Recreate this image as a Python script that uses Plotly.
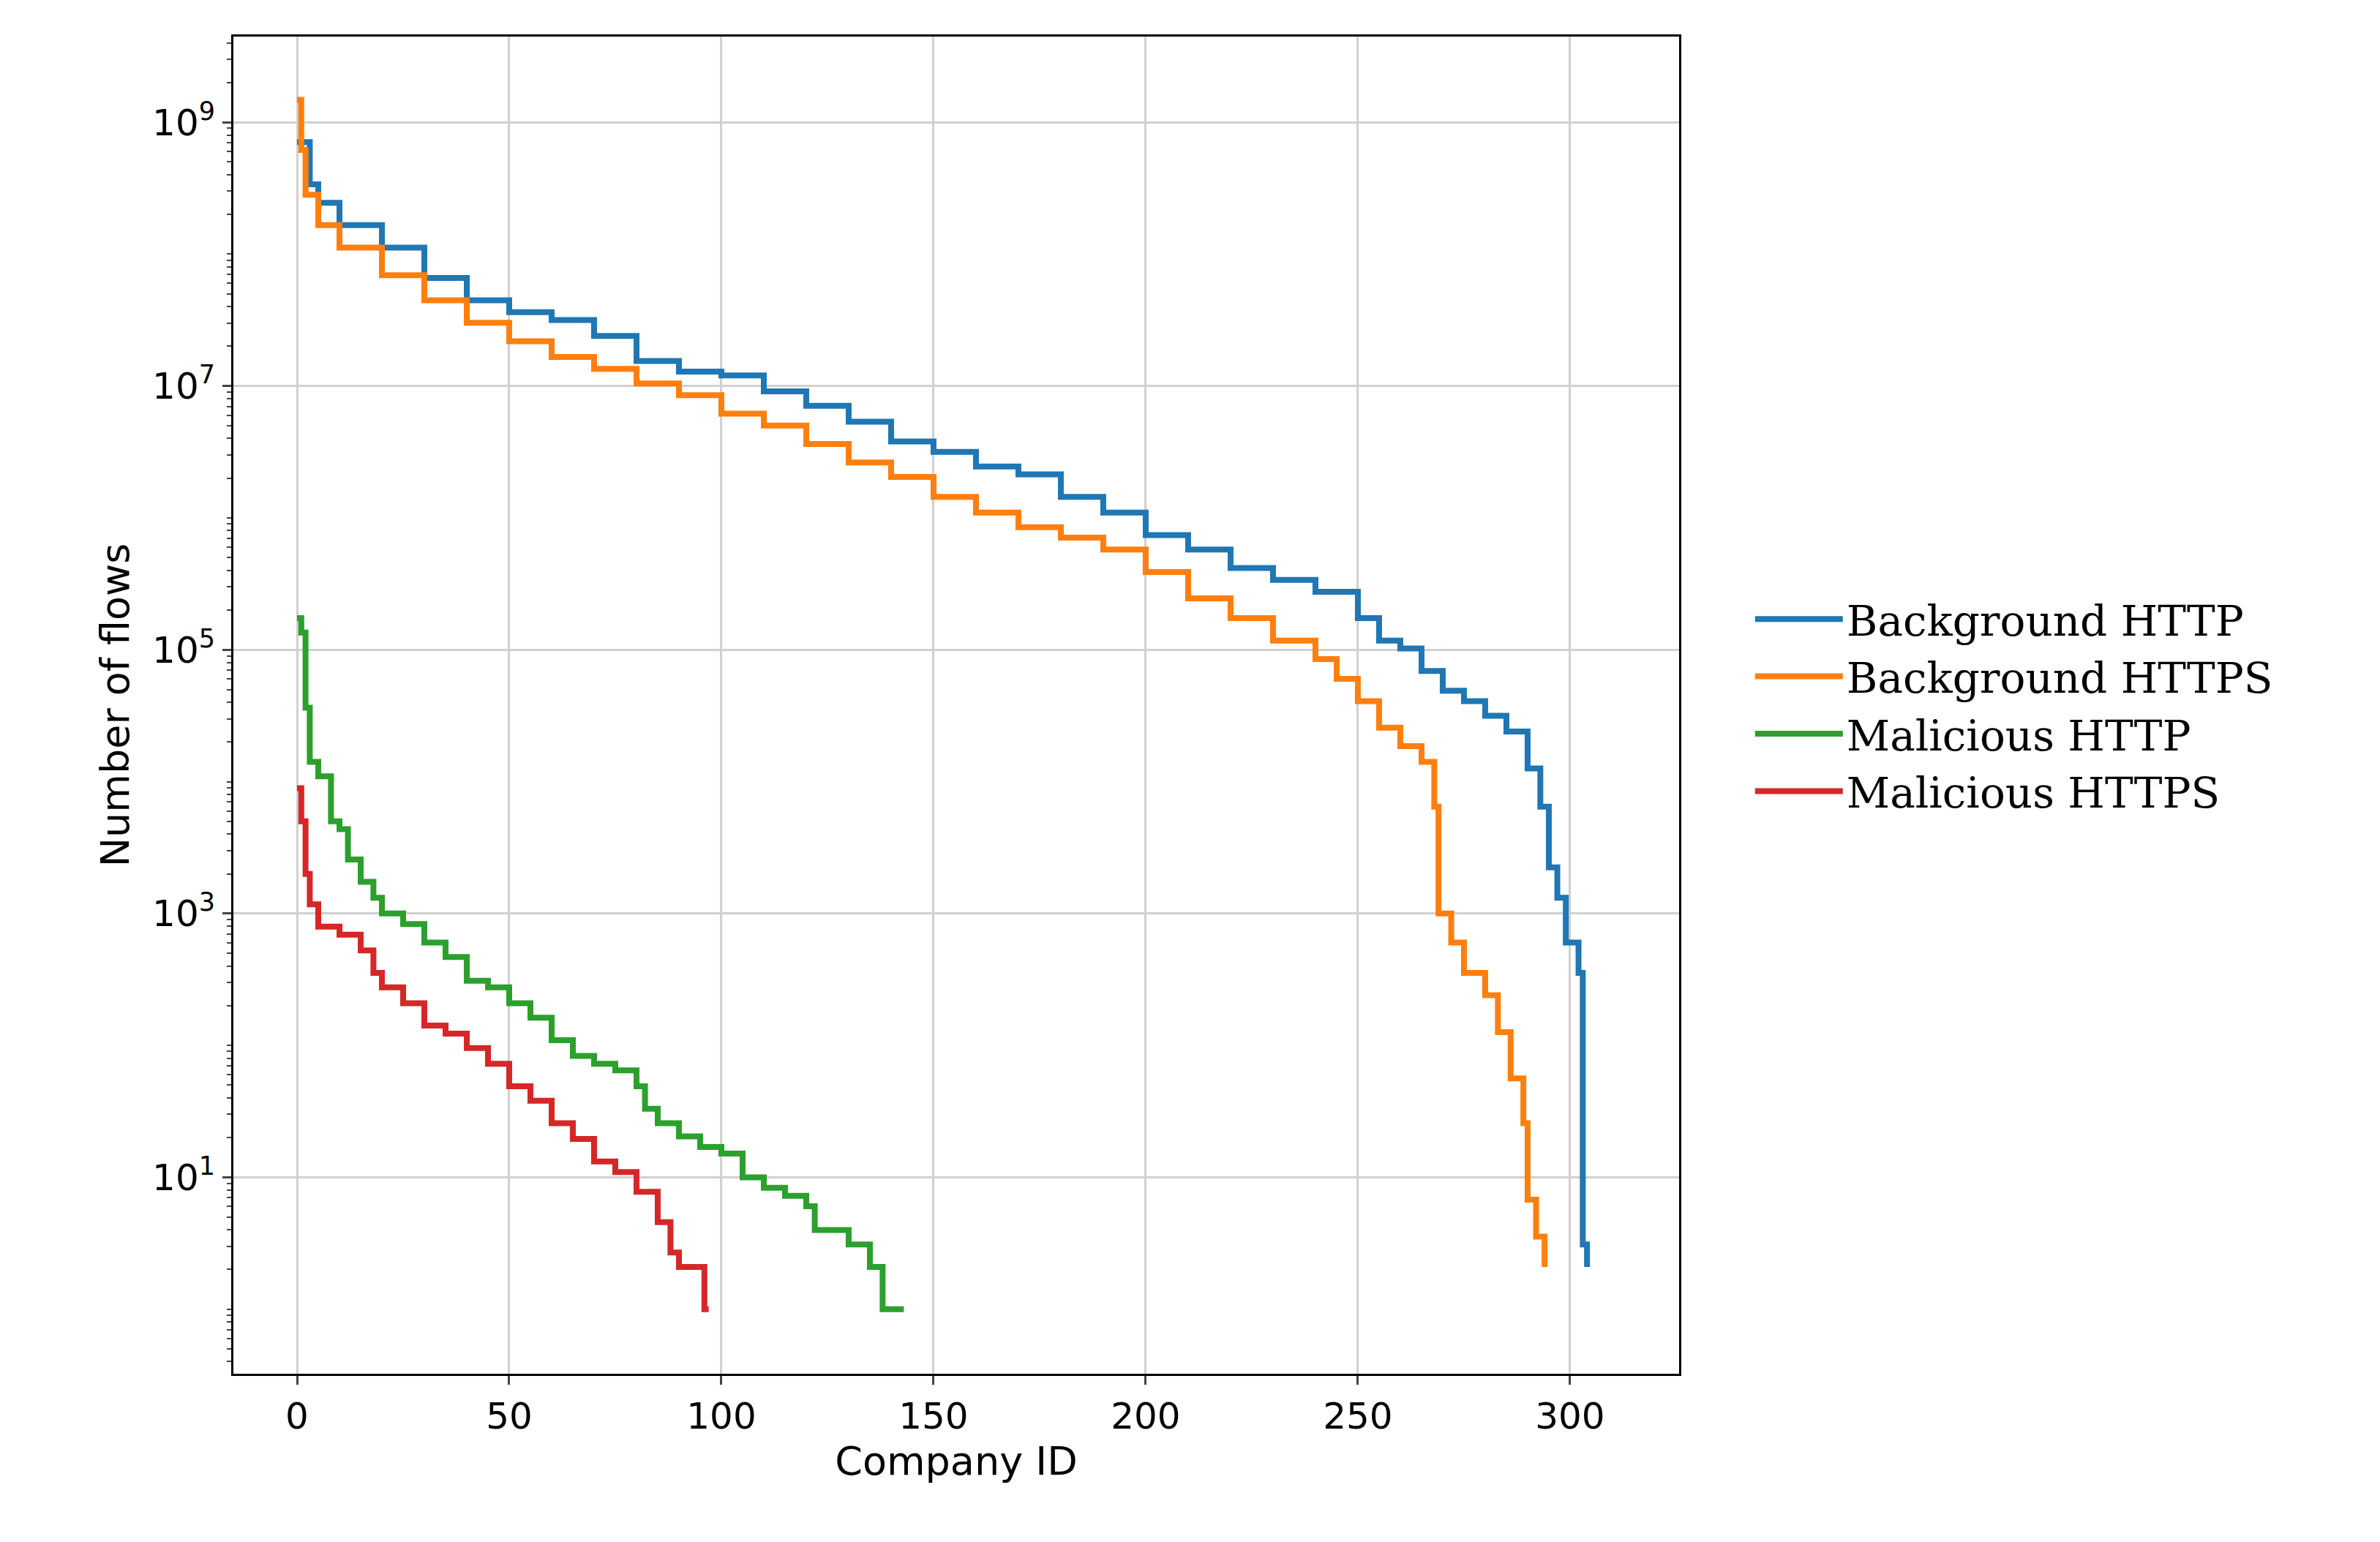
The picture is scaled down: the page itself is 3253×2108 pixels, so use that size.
import plotly.graph_objects as go

bg_http_x = [0,3,5,10,20,30,40,50,60,70,80,90,100,110,120,130,140,150,160,170,180,190,200,210,220,230,240,250,255,260,265,270,275,280,285,290,293,295,297,299,302,303,304]
bg_http_log = [8.85,8.53,8.39,8.22,8.05,7.82,7.65,7.56,7.5,7.38,7.19,7.11,7.08,6.96,6.85,6.73,6.58,6.5,6.39,6.33,6.16,6.04,5.87,5.76,5.62,5.53,5.44,5.24,5.07,5.01,4.84,4.69,4.61,4.5,4.38,4.1,3.81,3.35,3.12,2.78,2.55,0.49,0.32]

bg_https_x = [0,1,2,5,10,20,30,40,50,60,70,80,90,100,110,120,130,140,150,160,170,180,190,200,210,220,230,240,245,250,255,260,265,268,269,272,275,280,283,286,289,290,292,294]
bg_https_log = [9.17,8.79,8.45,8.22,8.05,7.84,7.65,7.48,7.34,7.22,7.13,7.02,6.93,6.79,6.7,6.56,6.42,6.31,6.16,6.04,5.93,5.85,5.76,5.59,5.39,5.24,5.07,4.93,4.78,4.61,4.41,4.27,4.15,3.81,3.0,2.78,2.55,2.38,2.1,1.75,1.41,0.83,0.55,0.32]

mal_http_x = [0,1,2,3,5,8,10,12,15,18,20,25,30,35,40,45,50,55,60,65,70,75,80,82,85,90,95,100,105,110,115,120,122,130,135,138,143]
mal_http_log = [5.24,5.13,4.56,4.15,4.04,3.7,3.64,3.41,3.24,3.12,3.0,2.92,2.78,2.67,2.49,2.44,2.32,2.21,2.04,1.92,1.86,1.81,1.69,1.52,1.41,1.31,1.23,1.18,1.0,0.92,0.86,0.78,0.6,0.49,0.32,0.0,0.0]

mal_https_x = [0,1,2,3,5,10,15,18,20,25,30,35,40,45,50,55,60,65,70,75,80,85,88,90,95,96,97]
mal_https_log = [3.95,3.7,3.3,3.07,2.9,2.84,2.72,2.55,2.44,2.32,2.15,2.09,1.98,1.86,1.69,1.58,1.41,1.29,1.12,1.04,0.89,0.66,0.43,0.32,0.32,0.0,0.0]

series = [
    ("Background HTTP", bg_http_x, bg_http_log, "#1f77b4"),
    ("Background HTTPS", bg_https_x, bg_https_log, "#ff7f0e"),
    ("Malicious HTTP", mal_http_x, mal_http_log, "#2ca02c"),
    ("Malicious HTTPS", mal_https_x, mal_https_log, "#d62728"),
]

fig = go.Figure()
for name, xs, ls, c in series:
    fig.add_trace(go.Scatter(x=xs, y=[10**v for v in ls], mode="lines", name=name,
                             line=dict(color=c, width=8, shape="hv")))

major = [10**k for k in (1, 3, 5, 7, 9)]
minor_vals = [m * 10**k for k in range(-1, 10) for m in range(1, 10) if 10**(-0.5) < m * 10**k < 10**9.7]

fig.update_layout(
    width=3253, height=2108,
    paper_bgcolor="white", plot_bgcolor="white",
    margin=dict(l=311, r=966, t=42, b=238),
    font=dict(family="DejaVu Sans", size=50, color="black"),
    legend=dict(x=1.05, y=0.5, yanchor="middle", xanchor="left",
                font=dict(family="DejaVu Serif", size=58), tracegroupgap=0, itemwidth=120),
    showlegend=True,
)
fig.update_xaxes(range=[-15, 325.7], tickvals=[0, 50, 100, 150, 200, 250, 300],
                 showgrid=True, gridcolor="#d0d0d0", gridwidth=3, zeroline=False,
                 showline=True, linecolor="black", linewidth=3, mirror=True,
                 ticks="outside", ticklen=12, tickwidth=3,
                 title=dict(text="Company ID", font=dict(size=54)))
fig.update_yaxes(type="log", range=[-0.49, 9.65], tickvals=major,
                 ticktext=["10<sup>1</sup>", "10<sup>3</sup>", "10<sup>5</sup>", "10<sup>7</sup>", "10<sup>9</sup>"],
                 showgrid=True, gridcolor="#d0d0d0", gridwidth=3, zeroline=False,
                 showline=True, linecolor="black", linewidth=3, mirror=True,
                 ticks="outside", ticklen=12, tickwidth=3,
                 minor=dict(tickvals=minor_vals, ticks="outside", ticklen=6, tickwidth=2, showgrid=False),
                 title=dict(text="Number of flows", font=dict(size=54)))

fig.write_html("out.html")
